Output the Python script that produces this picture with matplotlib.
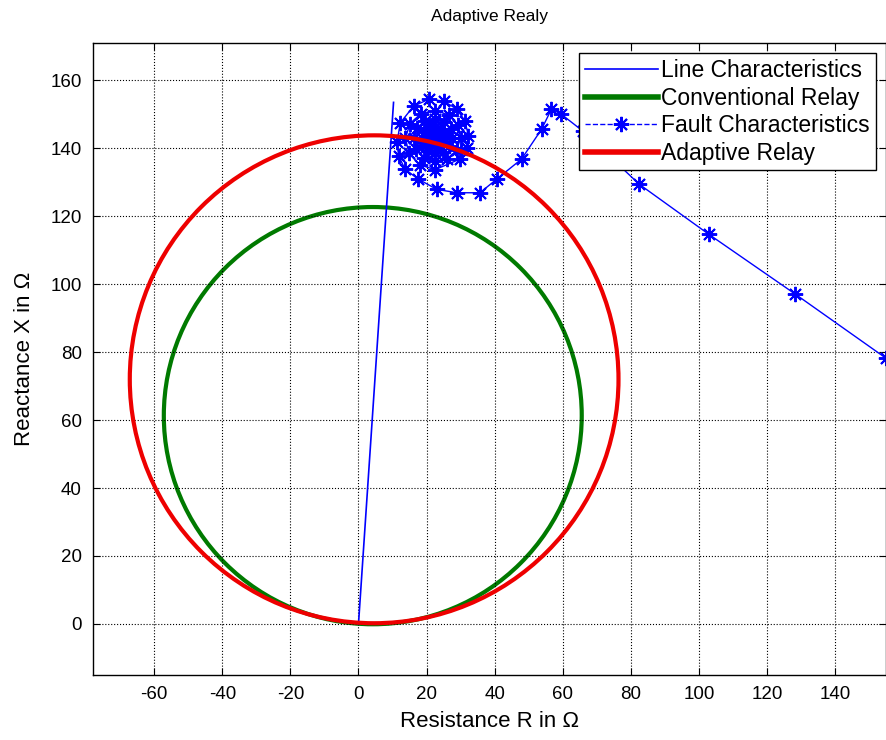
import numpy as np
import matplotlib.pyplot as plt
from matplotlib.lines import Line2D
from matplotlib.patches import Circle

plt.rcParams['font.family'] = ['Liberation Sans', 'DejaVu Sans']
plt.rcParams['axes.unicode_minus'] = False

# line characteristic: origin to line end
line_r = [0.0, 10.3]
line_x = [0.0, 153.5]

# relay mho circles (centre R, centre X, radius)
conv_center = (4.2, 61.3)
conv_radius = 61.4
adapt_center = (4.6, 72.0)
adapt_radius = 71.8

# fault impedance trajectory, load point -> settling fault point
fault_r = [155.0, 128.3, 102.9, 82.5, 66.0, 59.6, 56.7, 53.8, 47.9, 40.6,
           35.7, 28.9, 23.0, 17.6, 13.7, 11.8, 11.3, 12.3, 16.2, 20.6,
           25.0, 28.9, 31.3, 32.3, 31.8, 29.8,
           22.5, 17.95, 14.79, 13.8, 15.14, 18.35, 22.5, 26.45, 29.17, 30.0,
           28.82, 26.05,
           22.5, 19.15, 16.87, 16.2, 17.22, 19.55, 22.5, 25.25, 27.09, 27.6,
           26.74, 24.85,
           22.5, 20.35, 18.95, 18.6, 19.3, 20.75, 22.5, 24.05, 25.01, 25.2,
           24.67, 23.65,
           22.5, 21.55, 21.03, 21.0, 21.37, 21.95, 22.5, 22.85, 22.93, 22.8,
           22.67, 22.5]
fault_x = [78.2, 97.1, 114.7, 129.4, 145.0, 150.0, 151.5, 145.6, 136.8, 130.9,
           126.9, 126.9, 127.9, 130.9, 133.8, 137.7, 141.7, 147.5, 152.4, 154.4,
           153.9, 151.5, 148.0, 143.6, 140.0, 136.8,
           133.7, 135.12, 138.55, 143.0, 147.25, 150.19, 151.1, 149.84, 146.85, 143.0,
           139.35, 136.85,
           136.1, 137.2, 139.75, 143.0, 146.05, 148.11, 148.7, 147.76, 145.65, 143.0,
           140.55, 138.93,
           138.5, 139.28, 140.95, 143.0, 144.85, 146.03, 146.3, 145.68, 144.45, 143.0,
           141.75, 141.01,
           140.9, 141.35, 142.15, 143.0, 143.65, 143.95, 143.9, 143.61, 143.25, 143.0,
           142.9, 143.0]

xticks = np.arange(-60, 141, 20)
yticks = np.arange(0, 161, 20)

fig = plt.figure(figsize=(8.86, 7.4), dpi=100)
ax = fig.add_axes([0.105, 0.088, 0.895, 0.854])

star = (8, 2, 0)  # eight-armed asterisk

ax.plot(line_r, line_x, color='blue', lw=1.2)
ax.add_patch(Circle(conv_center, conv_radius, fill=False,
                    edgecolor='#007a00', lw=3))
ax.plot(fault_r, fault_x, color='blue', lw=1.0, marker=star,
        markersize=11, markeredgewidth=1.4)
ax.add_patch(Circle(adapt_center, adapt_radius, fill=False,
                    edgecolor='#ee0000', lw=3, zorder=3))

ax.set_xlim(-78, 155)
ax.set_ylim(-15, 171)
ax.set_xticks(xticks)
ax.set_yticks(yticks)
ax.tick_params(direction='in', top=True, right=True, labelsize=13.5,
               length=5, pad=8)
ax.grid(True, color='black', linestyle=':', linewidth=0.8)
for s in ax.spines.values():
    s.set_linewidth(1.0)

ax.set_title('Adaptive Realy', fontsize=12.5, pad=16)
ax.set_xlabel('Resistance R in Ω', fontsize=16, labelpad=6)
ax.set_ylabel('Reactance X in Ω', fontsize=16, labelpad=11)

handles = [
    Line2D([], [], color='blue', lw=1.2),
    Line2D([], [], color='#007a00', lw=4),
    Line2D([], [], color='blue', lw=1.0, linestyle='--', marker=star,
           markersize=11, markeredgewidth=1.5),
    Line2D([], [], color='#ee0000', lw=4),
]
labels = ['Line Characteristics', 'Conventional Relay',
          'Fault Characteristics', 'Adaptive Relay']
leg = ax.legend(handles, labels, loc='upper right', fontsize=16.5,
                framealpha=1, fancybox=False, edgecolor='black',
                handlelength=3.2, handletextpad=0.15, borderpad=0.25,
                labelspacing=0.2, borderaxespad=0.45)
leg.set_zorder(5)
leg.get_frame().set_linewidth(1.0)

fig.savefig('out.png', dpi=100)
